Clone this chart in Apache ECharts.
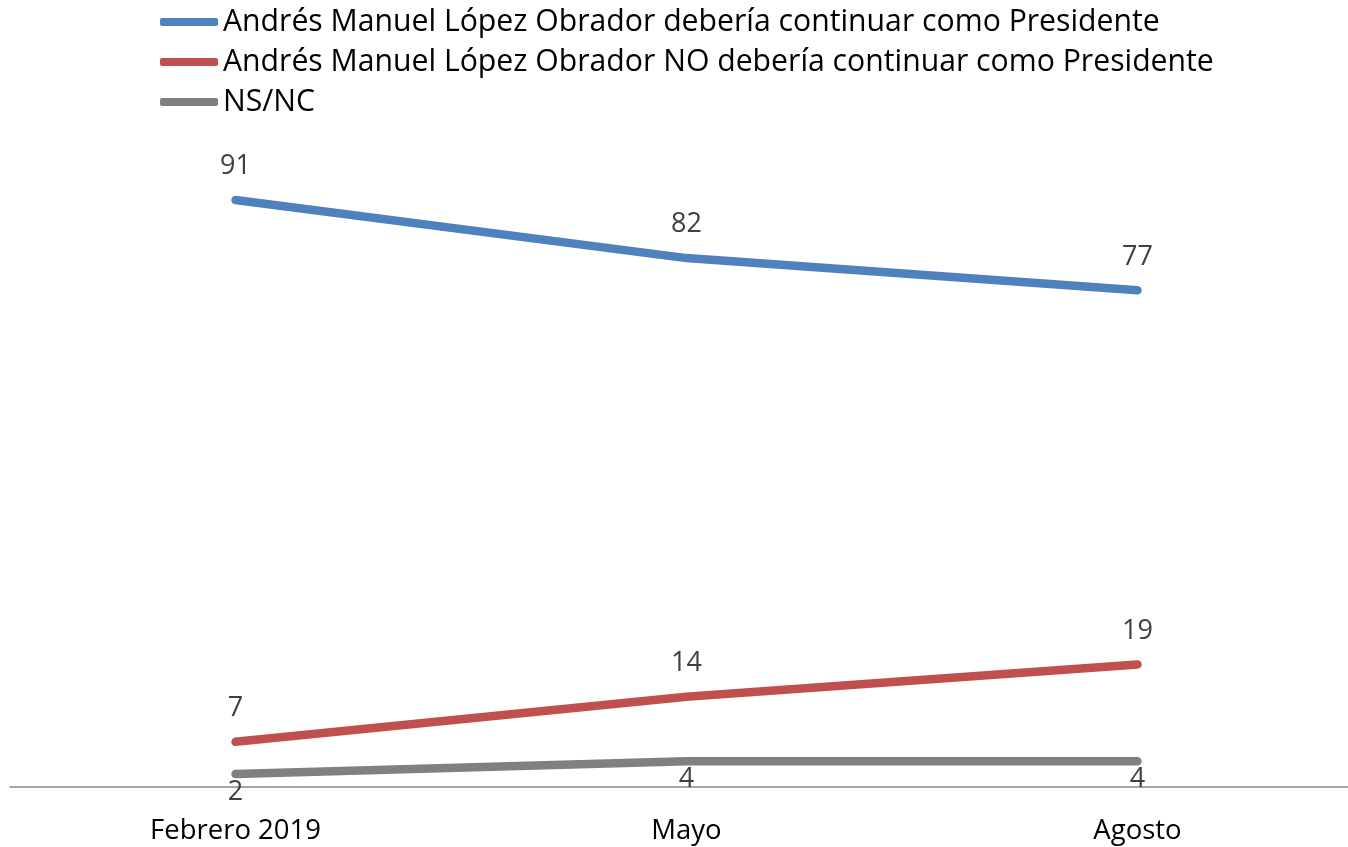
<!DOCTYPE html>
<html><head><meta charset="utf-8">
<script src="https://cdn.jsdelivr.net/npm/echarts@6/dist/echarts.min.js"></script>
<style>html,body{margin:0;padding:0;background:#fff;overflow:hidden}#c{width:1363px;height:847px}</style>
</head><body><div id="c"></div>
<script>
const categories = ['Febrero 2019', 'Mayo', 'Agosto'];
const seriesNames = [
  'Andrés Manuel López Obrador debería continuar como Presidente',
  'Andrés Manuel López Obrador NO debería continuar como Presidente',
  'NS/NC'
];
const continuar = [91, 82, 77];
const noContinuar = [7, 14, 19];
const nsnc = [2, 4, 4];
const colors = ['#4F81BD', '#C0504D', '#808080'];

const font = '"Open Sans", "Noto Sans", sans-serif';
function mk(name, data, color, pos, dist) {
  return {
    name, type: 'line', data, symbol: 'circle', symbolSize: 0, showSymbol: true, smooth: false,
    lineStyle: { width: 8.5, color, cap: 'round', join: 'round' },
    itemStyle: { color },
    label: { show: true, position: pos, distance: dist, fontSize: 27, color: '#404040', fontFamily: font },
    emphasis: { disabled: true }
  };
}
const chart = echarts.init(document.getElementById('c'), null, { renderer: 'canvas' });
chart.setOption({
  animation: false,
  backgroundColor: '#fff',
  legend: {
    orient: 'vertical', left: 160, top: 6, padding: 0,
    itemWidth: 58, itemHeight: 8, itemGap: 8,
    icon: 'roundRect',
    textStyle: { fontSize: 30.2, color: '#000', fontFamily: font, lineHeight: 32 },
    data: seriesNames
  },
  grid: { left: 10, right: 0, top: 142, bottom: 60 },
  xAxis: {
    type: 'category', data: categories, boundaryGap: true,
    axisLine: { lineStyle: { color: '#898989', width: 1.5 } },
    axisTick: { show: false },
    axisLabel: { fontSize: 27.5, color: '#000', fontFamily: font, margin: 30 }
  },
  yAxis: { type: 'value', min: 0, max: 100, show: false, splitLine: { show: false } },
  series: [
    mk(seriesNames[0], continuar, colors[0], 'top', 20),
    mk(seriesNames[1], noContinuar, colors[1], 'top', 20),
    mk(seriesNames[2], nsnc, colors[2], 'bottom', 5)
  ]
});
</script></body></html>
